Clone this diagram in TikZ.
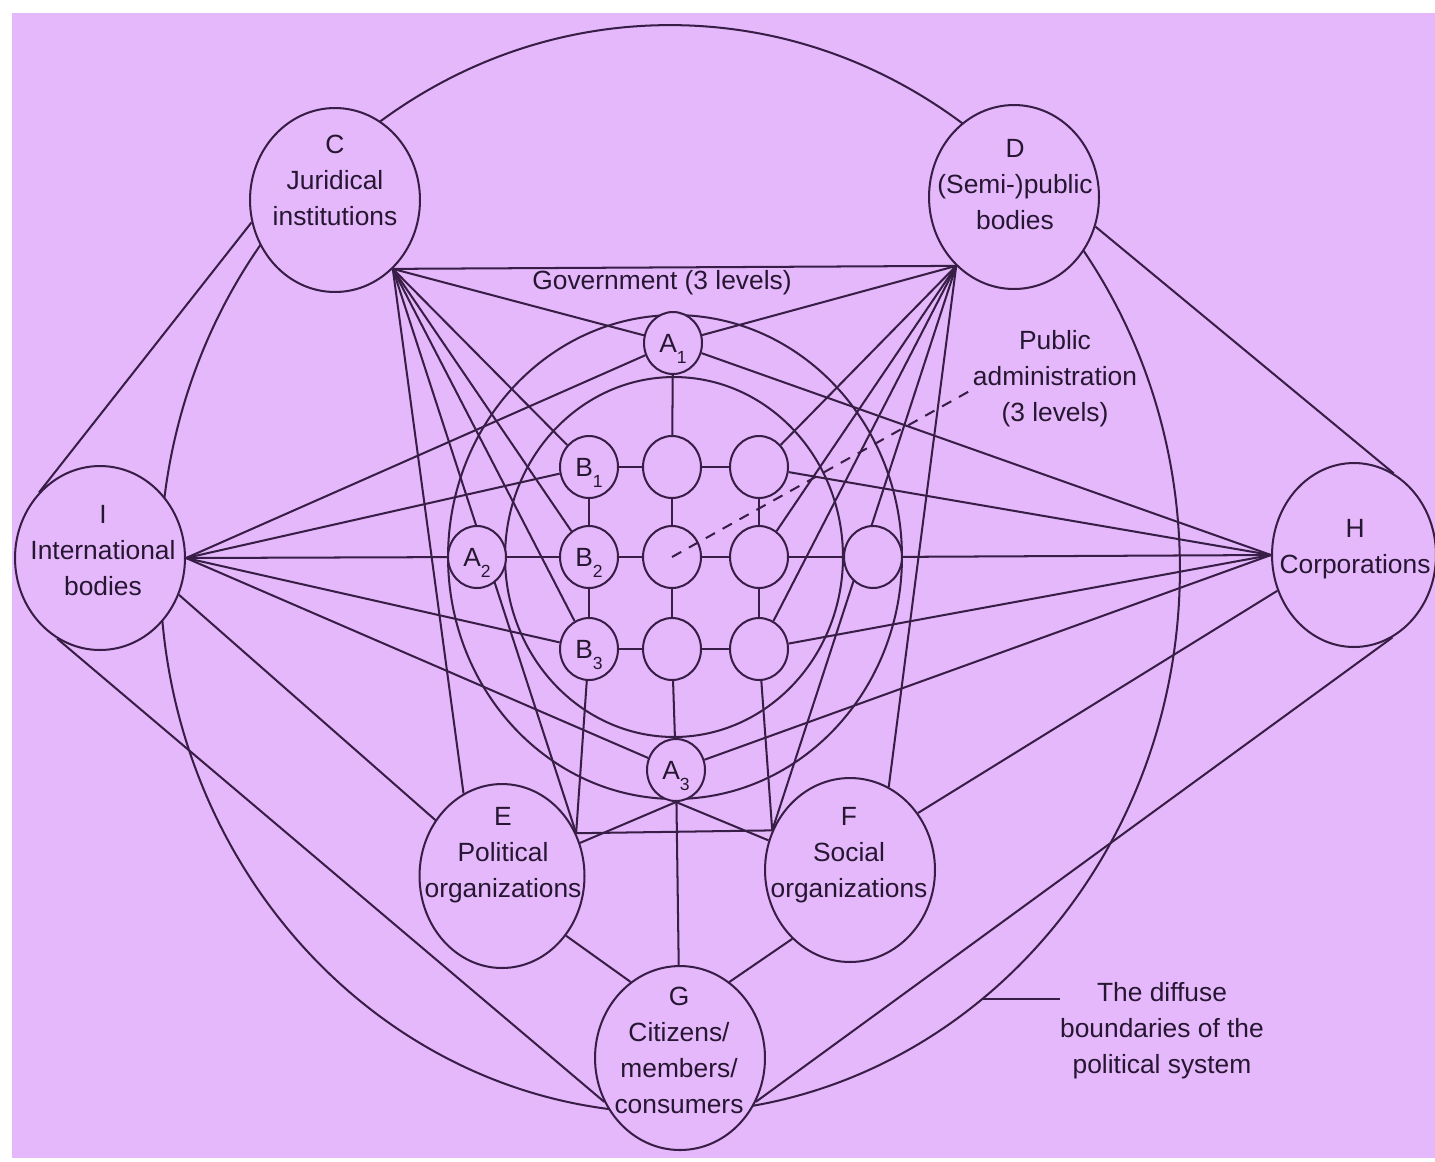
\documentclass[tikz,border=0pt]{standalone}
\usepackage{fontspec}
\setmainfont{Liberation Sans}
\usetikzlibrary{shapes.geometric,calc}
\definecolor{bgp}{RGB}{228,184,250}
\definecolor{ink}{RGB}{56,30,70}
\definecolor{txt}{RGB}{38,22,50}
\pgfdeclarelayer{back}
\pgfdeclarelayer{lines}
\pgfsetlayers{back,lines,main}
\newcommand{\lowsub}[1]{\raisebox{-6.5pt}{\fontsize{10}{10}\selectfont #1}}
\begin{document}
\begin{tikzpicture}[x=0.02cm,y=-0.02cm,
  every node/.style={font=\fontsize{15}{20.5}\selectfont, text=txt},
  big/.style={ellipse, draw=ink, line width=1.15pt, fill=bgp, minimum width=3.4cm, minimum height=3.68cm, inner sep=0pt},
  small/.style={ellipse, draw=ink, line width=1.15pt, fill=bgp, minimum width=1.16cm, minimum height=1.24cm, inner sep=0pt, text depth=0pt},
  lbl/.style={align=center, inner sep=0pt},
  conn/.style={draw=ink, line width=1.15pt},
  ring/.style={draw=ink, line width=1.15pt},
]
\begin{pgfonlayer}{back}
  \fill[white] (0,0) rectangle (1435,1161);
  \fill[bgp] (12,13) rectangle (1435,1158);
\end{pgfonlayer}
\useasboundingbox (0,0) rectangle (1435,1161);

% big nodes
\node[big] (C) at (335,200) {};
\node[big] (D) at (1014,197) {};
\node[big] (I) at (100,558) {};
\node[big, minimum width=3.28cm] (H) at (1354,555) {};
\node[big, minimum width=3.3cm] (E) at (502,876) {};
\node[big] (F) at (850,870) {};
\node[big] (G) at (680,1058) {};

\node[lbl] (Ct) at (335,180) {C\\Juridical\\institutions};
\node[lbl] (Dt) at (1015,185) {D\\(Semi-)public\\bodies};
\node[lbl] (It) at (103,551) {I\\International\\bodies};
\node[lbl] (Ht) at (1355,549) {H\\Corporations};
\node[lbl] (Et) at (503,855) {E\\Political\\organizations};
\node[lbl] (Ft) at (849,855) {F\\Social\\organizations};
\node[lbl] (Gt) at (679,1050) {G\\Citizens/\\members/\\consumers};

% small nodes
\node[small] (A1) at (673,343) {A\lowsub{1}};
\node[small] (A2) at (477,557) {A\lowsub{2}};
\node[small] (A3) at (676,770) {A\lowsub{3}};
\node[small] (B1) at (589,467) {B\lowsub{1}};
\node[small] (B2) at (589,557) {B\lowsub{2}};
\node[small] (B3) at (589,649) {B\lowsub{3}};
\node[small] (c21) at (672,467) {};
\node[small] (c22) at (672,557) {};
\node[small] (c23) at (672,649) {};
\node[small] (c31) at (759,467) {};
\node[small] (c32) at (759,557) {};
\node[small] (c33) at (759,649) {};
\node[small] (R) at (873,557) {};

% hubs
\coordinate (Ch) at (C.-50);
\coordinate (Dh) at (D.-130);
\coordinate (Ih) at (I.east);
\coordinate (Hh) at (H.west);
\coordinate (Eh) at (E.30);
\coordinate (Fh) at (F.153);

\begin{pgfonlayer}{lines}
  % rings
  \draw[ring] (670,569) ellipse [x radius=10.2cm, y radius=10.88cm];
  \draw[ring] (675,557) ellipse [x radius=4.54cm, y radius=4.84cm];
  \draw[ring] (674,557) ellipse [x radius=3.38cm, y radius=3.6cm];
  % hub fans
  \draw[conn] (Ch) -- (Dh);
  \foreach \t in {A1,B1,B2,B3} \draw[conn] (Ch) -- (\t);
  \draw[conn] (Ch) -- (Eh);
  \draw[conn] (Ch) -- (E.115);
  \foreach \t in {A1,c31,c32,c33} \draw[conn] (Dh) -- (\t);
  \draw[conn] (Dh) -- (Fh);
  \draw[conn] (Dh) -- (F.65);
  \foreach \t in {A1,B1,A2,B3,A3} \draw[conn] (Ih) -- (\t);
  \foreach \t in {A1,c31,R,c33,A3} \draw[conn] (Hh) -- (\t);
  % grid
  \draw[conn] (A2) -- (B2);
  \draw[conn] (B2) -- (c22);
  \draw[conn] (c22) -- (c32);
  \draw[conn] (c32) -- (R);
  \draw[conn] (B1) -- (c21);
  \draw[conn] (c21) -- (c31);
  \draw[conn] (B3) -- (c23);
  \draw[conn] (c23) -- (c33);
  \draw[conn] (A1) -- (c21);
  \draw[conn] (c21) -- (c22);
  \draw[conn] (c22) -- (c23);
  \draw[conn] (c23) -- (A3);
  \draw[conn] (B1) -- (B2);
  \draw[conn] (B2) -- (B3);
  \draw[conn] (c31) -- (c32);
  \draw[conn] (c32) -- (c33);
  \draw[conn] (B3) -- (Eh);
  \draw[conn] (c33) -- (Fh);
  \draw[conn] (Eh) -- (Fh);
  \draw[conn] (A3.south) -- (E.23);
  \draw[conn] (A3.south) -- (F.160);
  \draw[conn] (A3) -- (G);
  % outer links
  \draw[conn] (I.133) -- (C.195);
  \draw[conn] (D.-20) -- (H.64);
  \draw[conn] (I.-25) -- (E.140);
  \draw[conn] (H.-155) -- (F.40);
  \draw[conn] (I.-118) -- (G.-150);
  \draw[conn] (H.-65) -- (G.-30);
  \draw[conn] (E.-43) -- (G.123);
  \draw[conn] (F.-130) -- (G.57);
\end{pgfonlayer}

% labels
\node[lbl] (Gov) at (662,283) {Government (3 levels)};
\node[lbl] (PA) at (1055,379) {Public\\administration\\(3 levels)};
\coordinate (PAe) at (975,388);
\draw[draw=ink, line width=1.15pt, dash pattern=on 6pt off 5pt] (c22.center) -- (PAe);
\node[lbl] (Bnd) at (1162,1031) {The diffuse\\boundaries of the\\political system};
\coordinate (ringpt) at (982,999);
\draw[conn] (ringpt) -- (ringpt -| Bnd.west);
\end{tikzpicture}
\end{document}
